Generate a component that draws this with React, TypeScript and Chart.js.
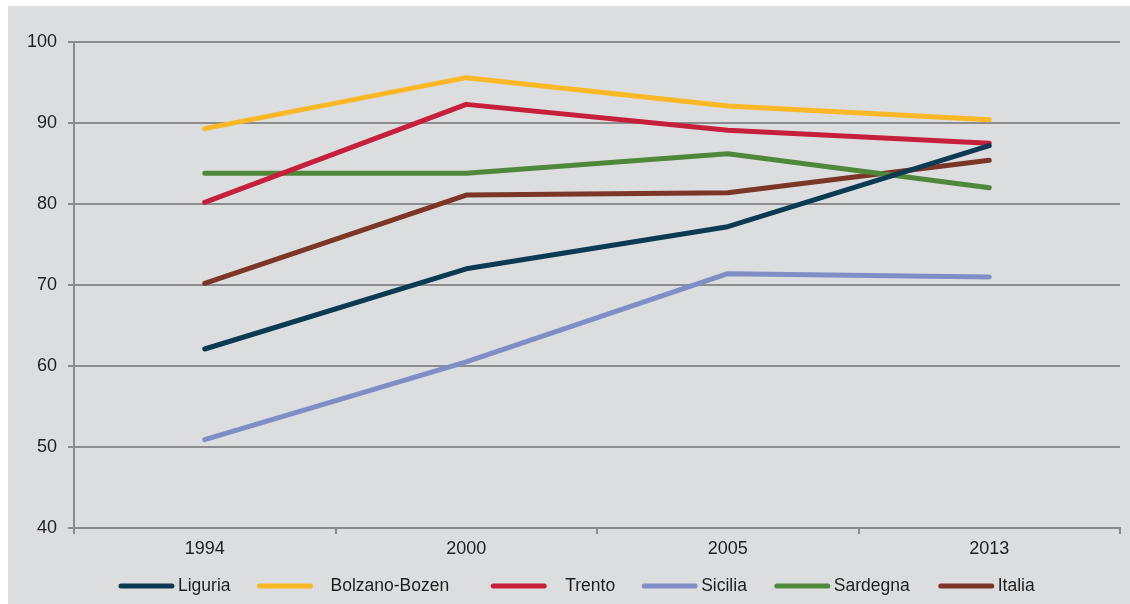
import React, { useEffect, useRef } from "react";
import { Chart, registerables } from "chart.js";

Chart.register(...registerables);

const years = ["1994", "2000", "2005", "2013"];
const liguria = [62.1, 72.0, 77.2, 87.2];
const bolzano = [89.3, 95.6, 92.1, 90.4];
const trento = [80.2, 92.3, 89.1, 87.5];
const sicilia = [50.9, 60.5, 71.4, 71.0];
const sardegna = [83.8, 83.8, 86.2, 82.0];
const italia = [70.2, 81.1, 81.4, 85.4];

const seriesNames = ["Liguria", "Bolzano-Bozen", "Trento", "Sicilia", "Sardegna", "Italia"];
const seriesColors = ["#0b3a52", "#fbb826", "#c61f3b", "#7f8ec5", "#4f883b", "#7b3628"];
const seriesValues = [liguria, bolzano, trento, sicilia, sardegna, italia];
const yTicks = { min: 40, max: 100, step: 10 };

const FONT = "'Liberation Sans', Arial, sans-serif";
const GRID = "#8c8c8e";
const TEXT = "#1e1e1e";

// extra padding for legend items (before text, after item) to mimic source spacing
const legendTextGap = [4, 18, 19, 4, 4, 4];
const legendAfter = [27, 42, 27, 28, 29, 0];

const legendPlugin = {
  id: "customLegend",
  afterDraw(chart: any) {
    const ctx = chart.ctx;
    ctx.save();
    ctx.font = `17.5px ${FONT}`;
    ctx.textBaseline = "middle";
    ctx.textAlign = "left";
    const y = 580;
    let x = 111;
    chart.data.datasets.forEach((ds: any, i: number) => {
      ctx.strokeStyle = ds.borderColor;
      ctx.lineWidth = 5;
      ctx.lineCap = "round";
      ctx.beginPath();
      ctx.moveTo(x + 2, y);
      ctx.lineTo(x + 53, y);
      ctx.stroke();
      x += 55 + legendTextGap[i];
      ctx.fillStyle = TEXT;
      ctx.fillText(ds.label, x, y);
      x += ctx.measureText(ds.label).width + legendAfter[i];
    });
    ctx.restore();
  },
};

export default function App() {
  const ref = useRef<HTMLCanvasElement>(null);
  useEffect(() => {
    if (!ref.current) return;
    const chart = new Chart(ref.current, {
      type: "line",
      data: {
        labels: years,
        datasets: seriesValues.map((vals, i) => ({
          label: seriesNames[i],
          data: vals,
          borderColor: seriesColors[i],
          backgroundColor: seriesColors[i],
          borderWidth: 5,
          pointRadius: 0,
          borderCapStyle: "round",
          borderJoinStyle: "round",
          tension: 0,
        })),
      },
      options: {
        responsive: false,
        animation: false,
        layout: { padding: { left: 0, right: 10, top: 36, bottom: 0 } },
        plugins: { legend: { display: false }, tooltip: { enabled: false } },
        scales: {
          x: {
            offset: true,
            afterFit: (s: any) => { s.height = 76; },
            grid: {
              offset: true,
              drawOnChartArea: false,
              drawTicks: true,
              tickLength: 6,
              color: GRID,
              lineWidth: 2,
            },
            border: { color: GRID, width: 2 },
            ticks: { color: TEXT, font: { family: FONT, size: 18 }, padding: 4 },
          },
          y: {
            min: yTicks.min,
            max: yTicks.max,
            afterFit: (s: any) => { s.width = 66; },
            grid: { color: GRID, lineWidth: 2, tickLength: 6, drawTicks: true },
            border: { color: GRID, width: 2 },
            ticks: { stepSize: yTicks.step, color: TEXT, font: { family: FONT, size: 18 }, padding: 11 },
          },
        },
      },
      plugins: [legendPlugin],
    } as any);
    return () => chart.destroy();
  }, []);
  return (
    <div style={{ position: "absolute", left: 8, top: 6, width: 1122, height: 598, background: "#dcdddf" }}>
      <canvas ref={ref} width={1122} height={598} style={{ display: "block" }} />
    </div>
  );
}
